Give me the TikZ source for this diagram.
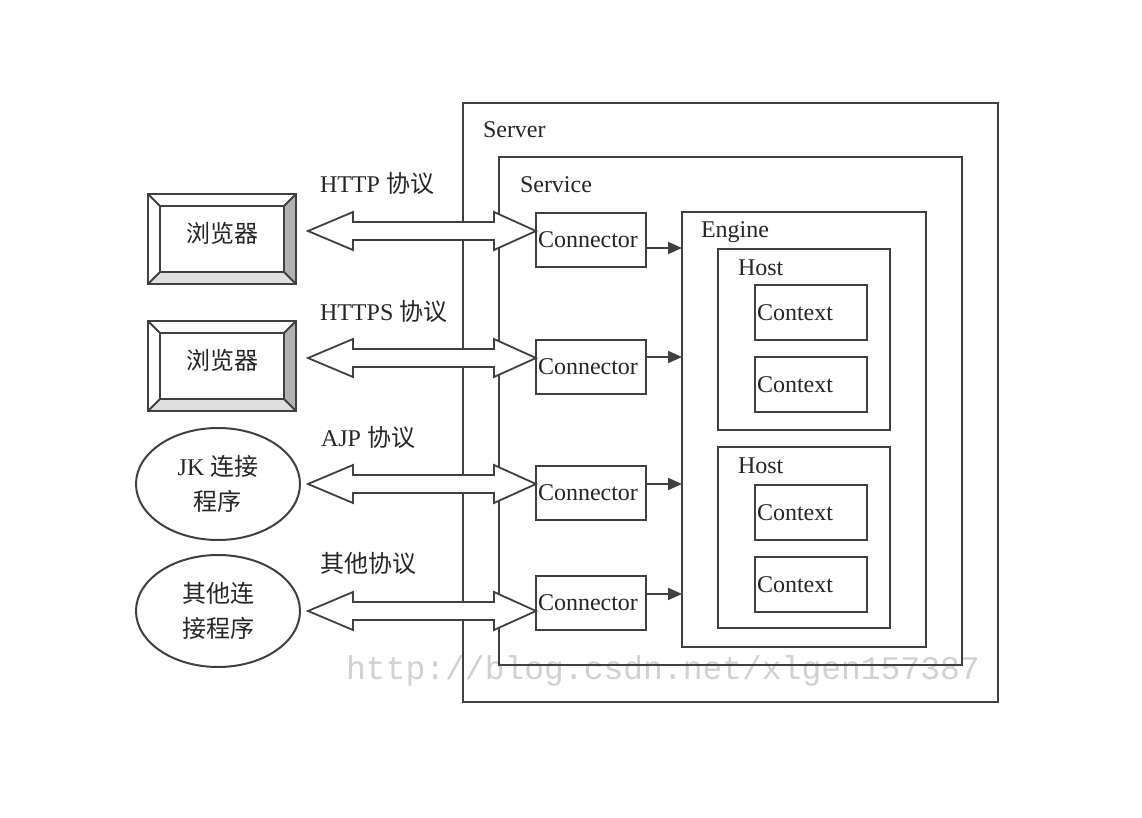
\documentclass[tikz,border=0pt]{standalone}
\usepackage{fontspec}
\setmainfont{Liberation Serif}
\newfontfamily\cjk{Noto Sans CJK SC}
\newfontfamily\wmfont{Liberation Mono}
\usetikzlibrary{shapes.geometric,arrows.meta,calc}

% fat two-headed arrow, from a tip coordinate to a node anchor
\newcommand\fatarrow[2]{%
	\draw[fat] let \p1=(#1), \p2=(#2) in
		(\x1,\y1) -- (\x1+22.5pt,\y1+9.5pt) -- (\x1+22.5pt,\y1+4.5pt)
		-- (\x2-21pt,\y1+4.5pt) -- (\x2-21pt,\y1+9.5pt) -- (\x2,\y1)
		-- (\x2-21pt,\y1-9.5pt) -- (\x2-21pt,\y1-4.5pt)
		-- (\x1+22.5pt,\y1-4.5pt) -- (\x1+22.5pt,\y1-9.5pt) -- cycle;}

% raised box for a browser
\newcommand\bevelbox[3]{%
	\node[bevel] (#1) at (#2) {};
	\fill[gray!60] ($(#1.north east)+(-6pt,-6pt)$) -- (#1.north east)
		-- (#1.south east) -- ($(#1.south east)+(-6pt,6pt)$) -- cycle;
	\fill[gray!25] ($(#1.south west)+(6pt,6pt)$) -- ($(#1.south east)+(-6pt,6pt)$)
		-- (#1.south east) -- (#1.south west) -- cycle;
	\draw ($(#1.north west)+(6pt,-6pt)$) rectangle ($(#1.south east)+(-6pt,6pt)$);
	\draw (#1.north west) -- ++(6pt,-6pt);
	\draw (#1.north east) -- ++(-6pt,-6pt);
	\draw (#1.south west) -- ++(6pt,6pt);
	\draw (#1.south east) -- ++(-6pt,6pt);
	\draw (#1.north west) rectangle (#1.south east);
	\node[yshift=3pt] (#1t) at (#1) {\cjk #3};}

\begin{document}
\begin{tikzpicture}[x=0.5pt, y=-0.5pt, line width=1pt, draw=black!75,
	every node/.style={font=\fontsize{12}{17.5}\selectfont, text=black!85},
	box/.style={draw, rectangle, inner sep=0pt, outer sep=0pt},
	ctx/.style={box, minimum height=27.5pt, text width=54pt, inner sep=1pt, align=left},
	conn/.style={box, minimum height=27pt, text width=53pt, inner sep=1pt, align=left},
	title/.style={anchor=west, inner sep=0pt},
	bevel/.style={rectangle, minimum width=74pt, minimum height=45pt, inner sep=0pt, outer sep=0pt},
	oval/.style={draw, ellipse, minimum width=82pt, minimum height=56pt, inner sep=0pt, align=center},
	fat/.style={fill=white, line width=0.9pt, line join=miter},
	flow/.style={-{Triangle[length=7pt,width=6pt]}},
	proto/.style={anchor=west, inner sep=0pt}]
	\useasboundingbox[fill=white] (0,0) rectangle (1142,818);

	\node[text=black!18, font=\wmfont\fontsize{16.5}{18}\selectfont] (wm) at (663,671)
		{http://blog.csdn.net/xlgen157387};

	% containers
	\node[box, minimum width=267.5pt, minimum height=299.5pt] (srv) at (730.5,402.5) {};
	\node[box, minimum width=231.5pt, minimum height=254pt] (svc) at (730.5,411) {};
	\node[box, minimum width=122pt, minimum height=217.5pt] (eng) at (804,429.5) {};
	\node[box, minimum width=86pt, minimum height=90.5pt] (host1) at (804,339.5) {};
	\node[box, minimum width=86pt, minimum height=90.5pt] (host2) at (804,537.5) {};
	\node[title] (srvT) at ([shift={(9.5pt,-13.5pt)}]srv.north west) {Server};
	\node[title] (svcT) at ([shift={(10pt,-14pt)}]svc.north west) {Service};
	\node[title] (engT) at ([shift={(9pt,-10pt)}]eng.north west) {Engine};
	\node[title] (host1T) at ([shift={(9.5pt,-9.5pt)}]host1.north west) {Host};
	\node[title] (host2T) at ([shift={(9.5pt,-9.5pt)}]host2.north west) {Host};

	\node[ctx] (ctx1) at (811,312.5) {Context};
	\node[ctx] (ctx2) at (811,384.5) {Context};
	\node[ctx] (ctx3) at (811,512.5) {Context};
	\node[ctx] (ctx4) at (811,584.5) {Context};

	\node[conn] (c1) at (591,240) {Connector};
	\node[conn] (c2) at (591,367) {Connector};
	\node[conn] (c3) at (591,493) {Connector};
	\node[conn] (c4) at (591,603) {Connector};

	\draw[flow] ([yshift=-4pt]c1.east) -- ([yshift=-4pt]c1.east -| eng.west);
	\draw[flow] ([yshift=5pt]c2.east) -- ([yshift=5pt]c2.east -| eng.west);
	\draw[flow] ([yshift=4.5pt]c3.east) -- ([yshift=4.5pt]c3.east -| eng.west);
	\draw[flow] ([yshift=4.5pt]c4.east) -- ([yshift=4.5pt]c4.east -| eng.west);

	% clients
	\bevelbox{b1}{222,239}{浏览器}
	\bevelbox{b2}{222,366}{浏览器}
	\node[oval] (jk) at (218,484) {JK {\cjk 连接}\\{\cjk 程序}};
	\node[oval] (oth) at (218,611) {{\cjk 其他连}\\{\cjk 接程序}};

	% protocols
	\coordinate (t1) at (308,231);
	\coordinate (t2) at (308,358);
	\coordinate (t3) at (308,484);
	\coordinate (t4) at (308,611);
	\fatarrow{t1}{c1.west}
	\fatarrow{t2}{c2.west}
	\fatarrow{t3}{c3.west}
	\fatarrow{t4}{c4.west}
	\node[proto] (p1) at (319,183) {HTTP {\cjk 协议}};
	\node[proto] (p2) at (319,311) {HTTPS {\cjk 协议}};
	\node[proto] (p3) at (320,437) {AJP {\cjk 协议}};
	\node[proto] (p4) at (319,563) {\cjk 其他协议};
\end{tikzpicture}
\end{document}
